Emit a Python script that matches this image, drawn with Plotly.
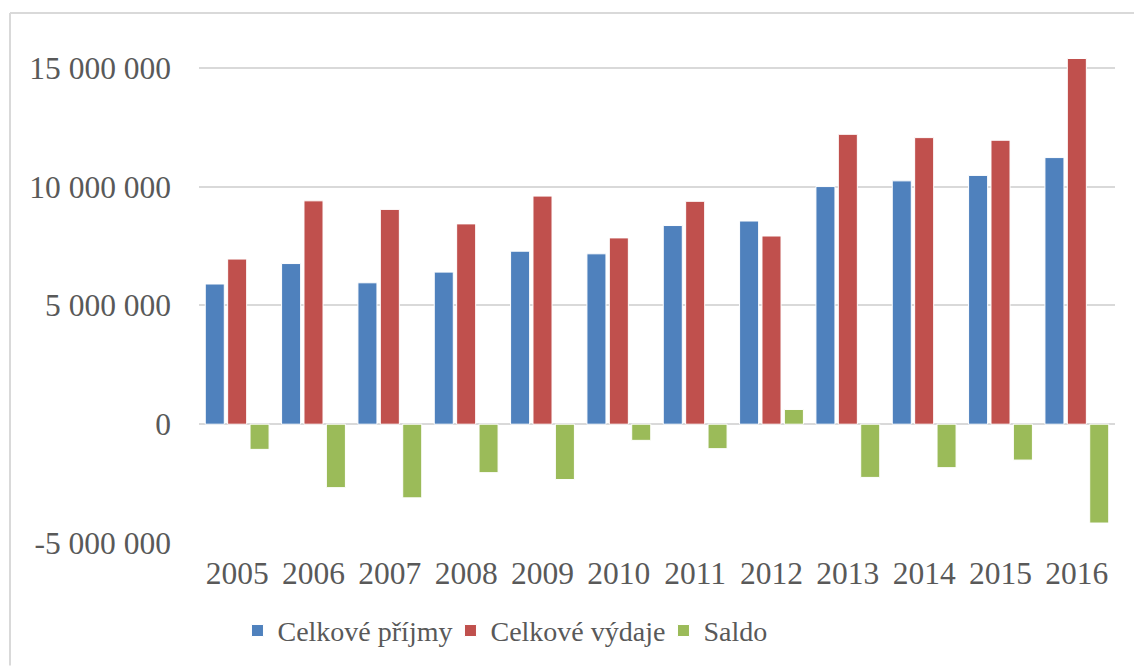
import plotly.graph_objects as go

years = ["2005", "2006", "2007", "2008", "2009", "2010", "2011", "2012", "2013", "2014", "2015", "2016"]
prijmy = [5900000, 6760000, 5950000, 6400000, 7280000, 7170000, 8360000, 8550000, 10000000, 10240000, 10470000, 11220000]
vydaje = [6950000, 9400000, 9040000, 8430000, 9600000, 7840000, 9380000, 7920000, 12200000, 12060000, 11950000, 15390000]
saldo = [-1060000, -2670000, -3100000, -2040000, -2330000, -680000, -1030000, 620000, -2240000, -1830000, -1510000, -4160000]
tick_vals = [-5000000, 0, 5000000, 10000000, 15000000]
tick_text = ["-5 000 000", "0", "5 000 000", "10 000 000", "15 000 000"]

FONT = "Liberation Serif"
TXT = "#595959"
FS = 31.5

fig = go.Figure()
for name, vals, col in [("Celkové příjmy", prijmy, "#4F81BD"),
                        ("Celkové výdaje", vydaje, "#C0504D"),
                        ("Saldo", saldo, "#9BBB59")]:
    fig.add_trace(go.Bar(x=years, y=vals, name=name,
                         marker=dict(color=col, line=dict(color="white", width=1))))

fig.update_layout(
    width=1134, height=668,
    margin=dict(l=199, r=19, t=44, b=123),
    paper_bgcolor="white", plot_bgcolor="white",
    barmode="group", bargap=0.12, bargroupgap=0.15,
    font=dict(family=FONT, size=FS, color=TXT),
    showlegend=True,
    legend=dict(orientation="h", x=0.042, xanchor="left", y=-0.176, yanchor="middle",
                font=dict(family=FONT, size=28, color=TXT), itemclick=False,
                entrywidth=168, entrywidthmode="pixels"),
    xaxis=dict(showgrid=False, showline=False, ticks="", tickfont=dict(family=FONT, size=FS, color=TXT),
               ticklabelstandoff=8),
    yaxis=dict(range=[-5000000, 16000000], tickvals=tick_vals, ticktext=tick_text,
               showgrid=True, gridcolor="#D9D9D9", gridwidth=2,
               zeroline=True, zerolinecolor="#D9D9D9", zerolinewidth=2,
               showline=False, ticks="", tickfont=dict(family=FONT, size=FS, color=TXT),
               ticklabelstandoff=27),
    shapes=[
        dict(type="line", xref="paper", yref="paper",
             x0=(10 - 199) / 916, x1=(10 - 199) / 916, y0=-123 / 501, y1=(545 - 13) / 501,
             line=dict(color="#D9D9D9", width=2)),
        dict(type="line", xref="paper", yref="paper",
             x0=(10 - 199) / 916, x1=(1134 - 199) / 916, y0=(545 - 13) / 501, y1=(545 - 13) / 501,
             line=dict(color="#D9D9D9", width=2)),
    ],
)

fig.write_html("out.html", config={"displayModeBar": False},
               post_script="document.body.style.margin='0';document.body.style.overflow='hidden';")
